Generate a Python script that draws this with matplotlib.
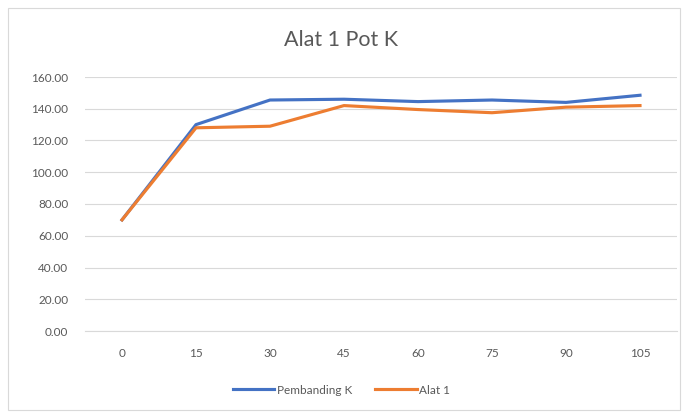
import matplotlib
matplotlib.use("Agg")
import matplotlib.pyplot as plt
from matplotlib.patches import Rectangle

plt.rcParams["font.family"] = ["Lato", "DejaVu Sans"]

categories = ["0", "15", "30", "45", "60", "75", "90", "105"]
pembanding_k = [70, 130, 145.5, 146, 144.5, 145.5, 144, 148.5]
alat_1 = [70, 128, 129, 142, 139.5, 137.5, 141, 142]
yticks = [0, 20, 40, 60, 80, 100, 120, 140, 160]

fig = plt.figure(figsize=(6.83, 4.13), dpi=100)
fig.patches.append(Rectangle((8/683, 3/413), 672/683, 402/413, transform=fig.transFigure,
                             fill=False, edgecolor="#D9D9D9", linewidth=0.8))
ax = fig.add_axes([85/683, 1 - 331/413, 592/683, 254/413])
x = list(range(len(categories)))
ax.plot(x, pembanding_k, color="#4472C4", linewidth=2.25, label="Pembanding K", zorder=3)
ax.plot(x, alat_1, color="#ED7D31", linewidth=2.25, label="Alat 1", zorder=3)
ax.set_xlim(-0.5, len(categories) - 0.5)
ax.set_ylim(0, 160)
ax.set_yticks(yticks)
ax.set_yticklabels([f"{v:.2f}" for v in yticks])
ax.set_xticks(x)
ax.set_xticklabels(categories)
ax.grid(axis="y", color="#D9D9D9", linewidth=0.8)
ax.set_axisbelow(True)
for s in ["top", "right", "left"]:
    ax.spines[s].set_visible(False)
ax.spines["bottom"].set_color("#D9D9D9")
ax.tick_params(length=0, colors="#595959", labelsize=8.5)
ax.tick_params(axis="x", pad=12)
ax.tick_params(axis="y", pad=12)
fig.text(0.5, 1 - 40/413, "Alat 1 Pot K", ha="center", va="center", fontsize=15.5, color="#595959")
fig.legend(loc="center", bbox_to_anchor=(0.5, 1 - 390/413), ncol=2, frameon=False,
           fontsize=8.5, labelcolor="#595959", handlelength=3.5, handletextpad=0.2, columnspacing=2)
fig.savefig("out.png", dpi=100)
